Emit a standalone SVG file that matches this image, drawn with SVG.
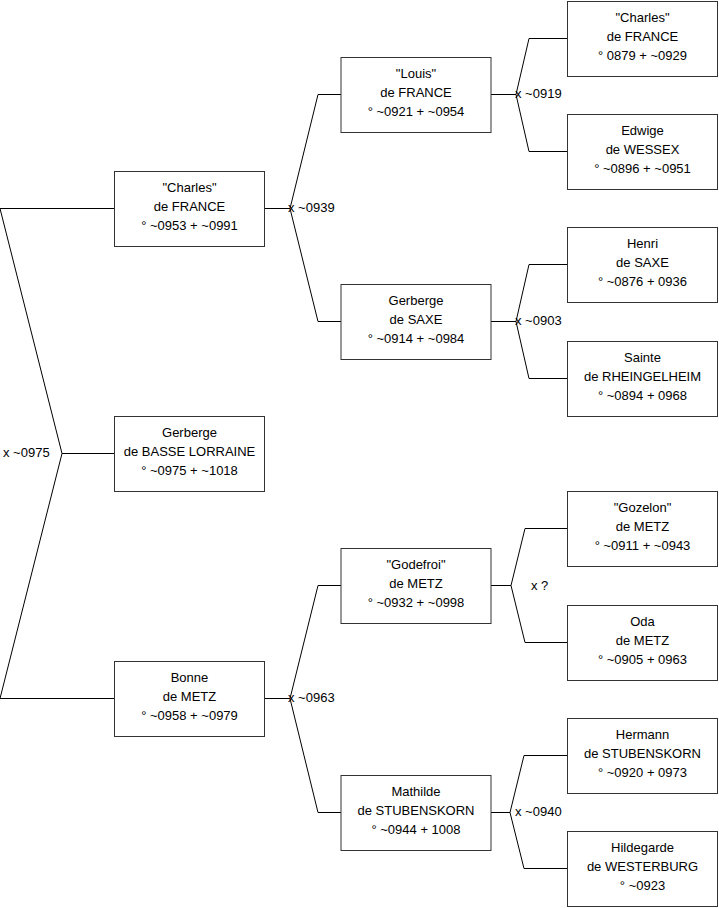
<svg xmlns="http://www.w3.org/2000/svg" width="719" height="908" viewBox="0 0 719 908">
<style>
.box{fill:#fff;stroke:#333;stroke-width:1}
.t{font-family:"Liberation Sans",Arial,sans-serif;font-size:13px;fill:#000;text-anchor:middle}
.l{font-family:"Liberation Sans",Arial,sans-serif;font-size:13px;fill:#000}
.c{fill:none;stroke:#000;stroke-width:1}
</style>
<rect width="719" height="908" fill="#fff"/>
<g id="connectors">
<path class="c" d="M0,208.5 H114.5 M0,208.5 L62,453.5 L0,698.5 H114.5 M62,453.5 H114.5"/>
<path class="c" d="M264.5,208.5 H290 M341,94.5 H318 L290,208.5 L318,321.5 H341"/>
<path class="c" d="M264.5,698.5 H290 M341,585.5 H318 L290,698.5 L318,812.5 H341"/>
<path class="c" d="M491,94.5 H516 M567.5,38.5 H529 L516,94.5 L529,151.5 H567.5"/>
<path class="c" d="M491,321.5 H516 M567.5,264.5 H529 L516,321.5 L529,378.5 H567.5"/>
<path class="c" d="M491,585.5 H511 M567.5,528.5 H525 L511,585.5 L525,642.5 H567.5"/>
<path class="c" d="M491,812.5 H510 M567.5,755.5 H524 L510,812.5 L524,868.5 H567.5"/>
<text class="l" x="3" y="457">x ~0975</text>
<text class="l" x="288" y="212">x ~0939</text>
<text class="l" x="288" y="702">x ~0963</text>
<text class="l" x="515" y="98">x ~0919</text>
<text class="l" x="515" y="325">x ~0903</text>
<text class="l" x="531" y="590">x ?</text>
<text class="l" x="515" y="816">x ~0940</text>
</g>
<g id="n1"><rect class="box" x="114.5" y="171.5" width="150" height="75"/><text class="t" x="189.5" y="192">"Charles"</text><text class="t" x="189.5" y="211">de FRANCE</text><text class="t" x="189.5" y="230">° ~0953 + ~0991</text></g>
<g id="n2"><rect class="box" x="114.5" y="416.5" width="150" height="75"/><text class="t" x="189.5" y="437">Gerberge</text><text class="t" x="189.5" y="456">de BASSE LORRAINE</text><text class="t" x="189.5" y="475">° ~0975 + ~1018</text></g>
<g id="n3"><rect class="box" x="114.5" y="661.5" width="150" height="75"/><text class="t" x="189.5" y="682">Bonne</text><text class="t" x="189.5" y="701">de METZ</text><text class="t" x="189.5" y="720">° ~0958 + ~0979</text></g>
<g id="n4"><rect class="box" x="341" y="57.5" width="150" height="75"/><text class="t" x="416" y="78">"Louis"</text><text class="t" x="416" y="97">de FRANCE</text><text class="t" x="416" y="116">° ~0921 + ~0954</text></g>
<g id="n5"><rect class="box" x="341" y="284.5" width="150" height="75"/><text class="t" x="416" y="305">Gerberge</text><text class="t" x="416" y="324">de SAXE</text><text class="t" x="416" y="343">° ~0914 + ~0984</text></g>
<g id="n6"><rect class="box" x="341" y="548.5" width="150" height="75"/><text class="t" x="416" y="569">"Godefroi"</text><text class="t" x="416" y="588">de METZ</text><text class="t" x="416" y="607">° ~0932 + ~0998</text></g>
<g id="n7"><rect class="box" x="341" y="775.5" width="150" height="75"/><text class="t" x="416" y="796">Mathilde</text><text class="t" x="416" y="815">de STUBENSKORN</text><text class="t" x="416" y="834">° ~0944 + 1008</text></g>
<g id="n8"><rect class="box" x="567.5" y="1.5" width="150" height="75"/><text class="t" x="642.5" y="22">"Charles"</text><text class="t" x="642.5" y="41">de FRANCE</text><text class="t" x="642.5" y="60">° 0879 + ~0929</text></g>
<g id="n9"><rect class="box" x="567.5" y="114.5" width="150" height="75"/><text class="t" x="642.5" y="135">Edwige</text><text class="t" x="642.5" y="154">de WESSEX</text><text class="t" x="642.5" y="173">° ~0896 + ~0951</text></g>
<g id="n10"><rect class="box" x="567.5" y="227.5" width="150" height="75"/><text class="t" x="642.5" y="248">Henri</text><text class="t" x="642.5" y="267">de SAXE</text><text class="t" x="642.5" y="286">° ~0876 + 0936</text></g>
<g id="n11"><rect class="box" x="567.5" y="341.5" width="150" height="75"/><text class="t" x="642.5" y="362">Sainte</text><text class="t" x="642.5" y="381">de RHEINGELHEIM</text><text class="t" x="642.5" y="400">° ~0894 + 0968</text></g>
<g id="n12"><rect class="box" x="567.5" y="491.5" width="150" height="75"/><text class="t" x="642.5" y="512">"Gozelon"</text><text class="t" x="642.5" y="531">de METZ</text><text class="t" x="642.5" y="550">° ~0911 + ~0943</text></g>
<g id="n13"><rect class="box" x="567.5" y="605.5" width="150" height="75"/><text class="t" x="642.5" y="626">Oda</text><text class="t" x="642.5" y="645">de METZ</text><text class="t" x="642.5" y="664">° ~0905 + 0963</text></g>
<g id="n14"><rect class="box" x="567.5" y="718.5" width="150" height="75"/><text class="t" x="642.5" y="739">Hermann</text><text class="t" x="642.5" y="758">de STUBENSKORN</text><text class="t" x="642.5" y="777">° ~0920 + 0973</text></g>
<g id="n15"><rect class="box" x="567.5" y="831.5" width="150" height="75"/><text class="t" x="642.5" y="852">Hildegarde</text><text class="t" x="642.5" y="871">de WESTERBURG</text><text class="t" x="642.5" y="890">° ~0923</text></g>
</svg>
